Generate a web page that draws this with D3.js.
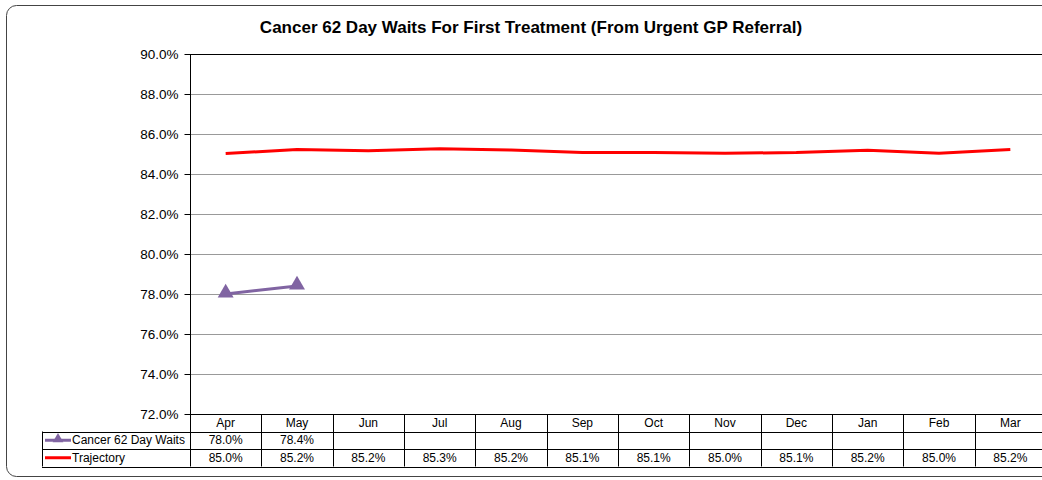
<!DOCTYPE html>
<html>
<head>
<meta charset="utf-8">
<script src="https://cdn.jsdelivr.net/npm/d3@7"></script>
<style>
  body { margin: 0; background: #fff; }
  svg { display: block; font-family: "Liberation Sans", Arial, sans-serif; }
</style>
</head>
<body>
<div id="canvas"></div>
<script>
// data
var months = ['Apr','May','Jun','Jul','Aug','Sep','Oct','Nov','Dec','Jan','Feb','Mar'];
var waits = [78.0, 78.4];
var trajectory = [85.03, 85.22, 85.16, 85.26, 85.2, 85.08, 85.08, 85.04, 85.07, 85.19, 85.04, 85.23];
var yTicks = [72, 74, 76, 78, 80, 82, 84, 86, 88, 90];
var title = 'Cancer 62 Day Waits For First Treatment (From Urgent GP Referral)';

var W = 1042, H = 480;
var m = {t:54, l:190, r:-4, b:66};
var w = W - m.l - m.r,
    h = H - m.t - m.b;
var rowH = 17.5;

var svg = d3.select('#canvas').append('svg')
    .attr('width', W).attr('height', H);

// outer rounded border
svg.append('rect')
    .attr('x', 6.5).attr('y', 5.5)
    .attr('width', 1080).attr('height', 471)
    .attr('rx', 10).attr('ry', 10)
    .attr('fill', 'none').attr('stroke', '#444').attr('stroke-width', 1);

svg.append('text')
    .attr('x', 531).attr('y', 33)
    .attr('text-anchor', 'middle')
    .attr('font-size', '17px').attr('font-weight', 'bold')
    .text(title);

var plot = svg.append('g').attr('transform', 'translate(' + m.l + ',' + m.t + ')');

var scaleX = d3.scaleBand().domain(months).range([0, w]);
var scaleY = d3.scaleLinear().domain([72, 90]).range([h, 0]);

// gridlines
plot.selectAll('.grid').data(yTicks.slice(1)).enter().append('line')
    .attr('x1', 0).attr('x2', w)
    .attr('y1', function(d){ return Math.round(scaleY(d)) + 0.5; })
    .attr('y2', function(d){ return Math.round(scaleY(d)) + 0.5; })
    .attr('stroke', function(d){ return d === 90 ? '#000' : '#999'; })
    .attr('stroke-width', 1);

// y axis
var axisY = d3.axisLeft(scaleY)
    .tickValues(yTicks)
    .tickSize(6)
    .tickFormat(function(d){ return d.toFixed(1) + '%'; });
var gy = plot.append('g').attr('transform', 'translate(0.5,0)').call(axisY);
gy.select('.domain').remove();
gy.selectAll('line').attr('stroke', '#000');
gy.selectAll('text').attr('font-size', '13.5px').attr('fill', '#000')
    .attr('x', -12).attr('dy', '0.35em');
gy.append('line').attr('x1', 0).attr('x2', 0).attr('y1', 0).attr('y2', h + rowH * 3)
    .attr('stroke', '#000');

// lines
var line = d3.line()
    .x(function(d, i){ return scaleX(months[i]) + scaleX.bandwidth() / 2; })
    .y(function(d){ return scaleY(d); });

plot.append('path').datum(trajectory)
    .attr('d', line)
    .attr('fill', 'none').attr('stroke', '#ff0000').attr('stroke-width', 3);

plot.append('path').datum(waits)
    .attr('d', line)
    .attr('fill', 'none').attr('stroke', '#8064a2').attr('stroke-width', 3);

var tri = d3.symbol().type(d3.symbolTriangle).size(110);
plot.selectAll('.mk').data(waits).enter().append('path')
    .attr('d', tri)
    .attr('transform', function(d, i){
        return 'translate(' + (scaleX(months[i]) + scaleX.bandwidth() / 2) + ',' + (scaleY(d) - 1) + ')';
    })
    .attr('fill', '#8064a2');

// data table
var table = plot.append('g').attr('transform', 'translate(0,' + h + ')');
var legX = 42 - m.l;

table.append('line').attr('x1', 0).attr('x2', w).attr('y1', 0.5).attr('y2', 0.5).attr('stroke', '#000');
[1, 2, 3].forEach(function(r){
    table.append('line')
        .attr('x1', legX).attr('x2', w)
        .attr('y1', Math.round(r * rowH) + 0.5).attr('y2', Math.round(r * rowH) + 0.5)
        .attr('stroke', '#000');
});
table.append('line').attr('x1', legX + 0.5).attr('x2', legX + 0.5)
    .attr('y1', rowH).attr('y2', rowH * 3).attr('stroke', '#000');

months.forEach(function(mo, i){
    var x0 = scaleX(mo);
    if (i > 0) {
        table.append('line')
            .attr('x1', Math.round(x0) + 0.5).attr('x2', Math.round(x0) + 0.5)
            .attr('y1', 0).attr('y2', rowH * 3).attr('stroke', '#000');
    }
    var cx = x0 + scaleX.bandwidth() / 2;
    table.append('text').attr('x', cx).attr('y', rowH * 0.5 + 4)
        .attr('text-anchor', 'middle').attr('font-size', '12px').text(mo);
    if (waits[i] !== undefined) {
        table.append('text').attr('x', cx).attr('y', rowH * 1.5 + 4)
            .attr('text-anchor', 'middle').attr('font-size', '12px').text(waits[i].toFixed(1) + '%');
    }
    table.append('text').attr('x', cx).attr('y', rowH * 2.5 + 4)
        .attr('text-anchor', 'middle').attr('font-size', '12px').text(trajectory[i].toFixed(1) + '%');
});

// legend keys
var keys = [
    {name: 'Cancer 62 Day Waits', color: '#8064a2', marker: true},
    {name: 'Trajectory', color: '#ff0000', marker: false}
];
keys.forEach(function(k, i){
    var y = rowH * (1.5 + i);
    table.append('line')
        .attr('x1', legX + 3).attr('x2', legX + 29)
        .attr('y1', y).attr('y2', y)
        .attr('stroke', k.color).attr('stroke-width', 3);
    if (k.marker) {
        table.append('path').attr('d', d3.symbol().type(d3.symbolTriangle).size(50))
            .attr('transform', 'translate(' + (legX + 16) + ',' + (y - 1) + ')')
            .attr('fill', k.color);
    }
    table.append('text').attr('x', legX + 30).attr('y', y + 4)
        .attr('font-size', '12px').text(k.name);
});
</script>
</body>
</html>
